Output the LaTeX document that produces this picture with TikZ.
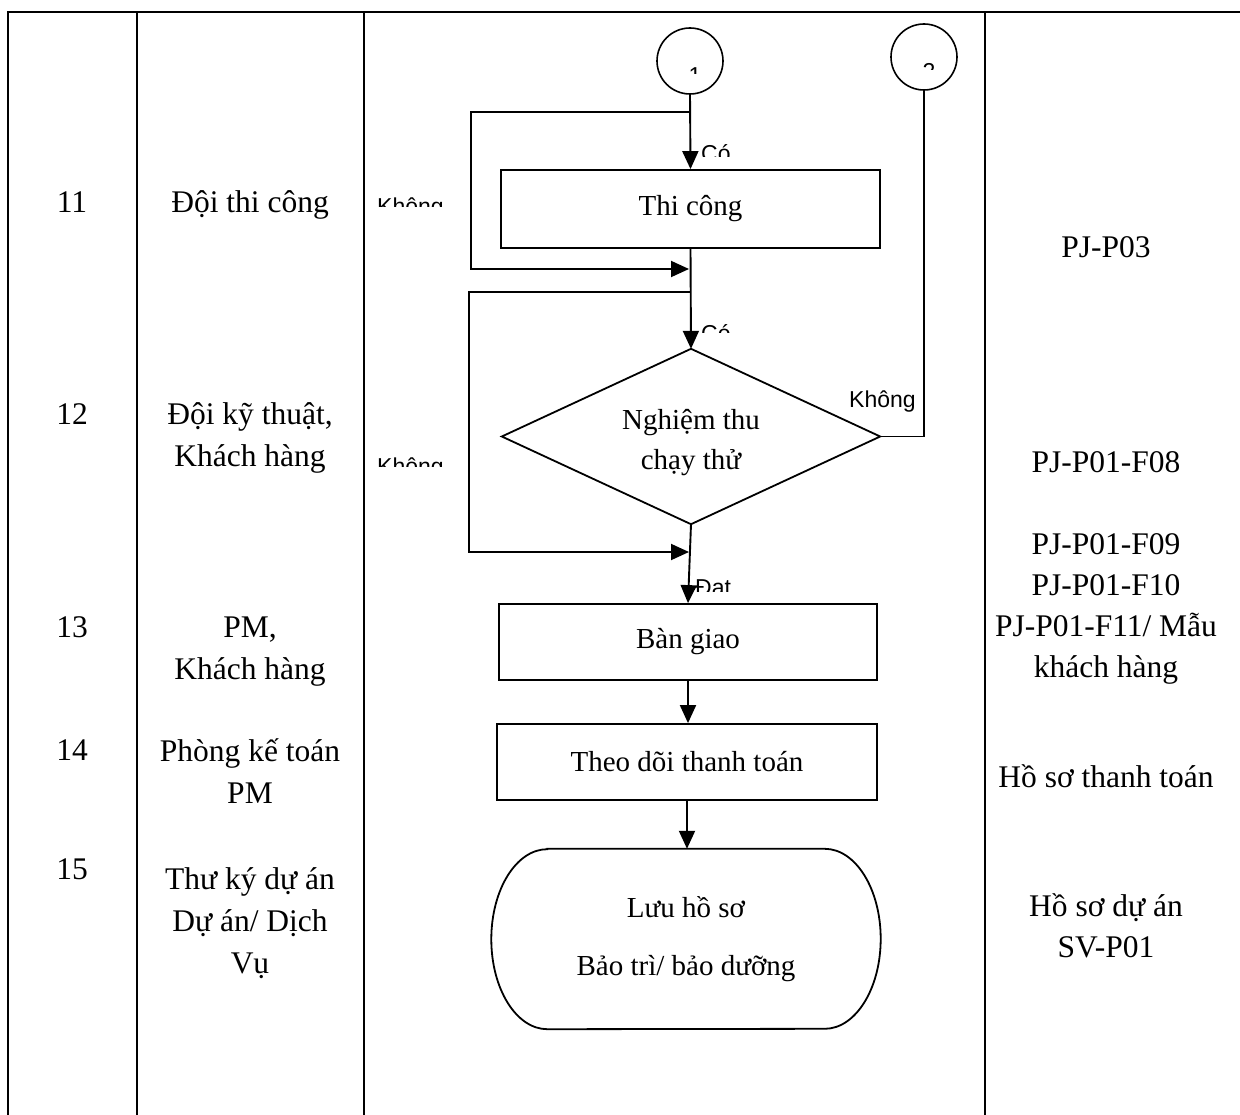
\documentclass[tikz,border=0pt]{standalone}
\usepackage{fontspec}
\setmainfont{Liberation Serif}
\newfontfamily\lsans{Liberation Sans}
\usetikzlibrary{arrows.meta}
\begin{document}
\begin{tikzpicture}[x=1pt,y=-1pt,
  grid/.style={line width=2.2pt},
  flow/.style={line width=1.9pt},
  arr/.style={flow,-{Triangle[length=18pt,width=16pt]}},
  cell/.style={font=\fontsize{31.5}{42}\selectfont, align=center, inner sep=0pt, anchor=base},
  procbox/.style={draw, line width=1.8pt, font=\fontsize{29}{40}\selectfont, inner sep=0pt, align=center},
  tag/.style={font=\lsans\fontsize{23}{26}\selectfont, inner sep=0pt, anchor=base west},
  conn/.style={draw, circle, line width=1.6pt, minimum size=66pt, inner sep=0pt},
]
\useasboundingbox (0,0) rectangle (1240,1115);

% table frame
\draw[grid] (8,1115) -- (8,12) -- (1240,12);
\draw[grid] (137,12) -- (137,1115);
\draw[grid] (364,12) -- (364,1115);
\draw[grid] (985,12) -- (985,1115);

% step numbers
\node[cell] (n11) at (72,213) {11};
\node[cell] (n12) at (72,424) {12};
\node[cell] (n13) at (72,637) {13};
\node[cell] (n14) at (72,760) {14};
\node[cell] (n15) at (72,879) {15};

% responsible parties (base = last line)
\node[cell] (p11) at (250,213) {Đội thi công};
\node[cell] (p12) at (250,466) {Đội kỹ thuật,\\Khách hàng};
\node[cell] (p13) at (250,679) {PM,\\Khách hàng};
\node[cell] (p14) at (250,803) {Phòng kế toán\\PM};
\node[cell] (p15) at (250,973) {Thư ký dự án\\Dự án/ Dịch\\Vụ};

% forms and records
\node[cell] (f11) at (1106,258) {PJ-P03};
\node[cell] (f12) at (1106,472) {PJ-P01-F08};
\node[cell, font=\fontsize{31.5}{41}\selectfont] (f13) at (1106,677) {PJ-P01-F09\\PJ-P01-F10\\PJ-P01-F11/ Mẫu\\khách hàng};
\node[cell] (f14) at (1106,787) {Hồ sơ thanh toán};
\node[cell, font=\fontsize{31.5}{41}\selectfont] (f15) at (1106,957) {Hồ sơ dự án\\SV-P01};

% connectors to other pages
\node[conn] (c1) at (690,61) {};
\node[conn] (c2) at (924,57) {};
\begin{scope}
  \clip (670,40) rectangle (720,74);
  \node[tag, anchor=base] (d1) at (695,83.5) {1};
\end{scope}
\begin{scope}
  \clip (905,40) rectangle (955,70);
  \node[tag, anchor=base] (d2) at (929,79.5) {2};
\end{scope}

% process steps
\node[procbox, minimum width=379pt, minimum height=78pt] (thi) at (690.5,209) {Thi công};
\node[minimum width=378pt, minimum height=175pt, inner sep=0pt] (dia) at (691,436.5) {};
\draw[line width=1.8pt] (dia.north) -- (dia.east) -- (dia.south) -- (dia.west) -- cycle;
\node[font=\fontsize{29}{40}\selectfont, align=center, inner sep=0pt] (diat) at (691,443) {Nghiệm thu\\chạy thử};
\node[procbox, minimum width=378pt, minimum height=76pt] (ban) at (688,642) {Bàn giao};
\node[procbox, minimum width=380pt, minimum height=76pt] (theo) at (687,762) {Theo dõi thanh toán};
\node[minimum width=389pt, minimum height=180pt, inner sep=0pt, align=center,
      font=\fontsize{29}{58}\selectfont] (luu) at (686,939) {Lưu hồ sơ\\Bảo trì/ bảo dưỡng};
\draw[line width=1.8pt] ([xshift=56pt]luu.north west) -- ([xshift=-56pt]luu.north east)
  arc[start angle=-90, end angle=90, x radius=56, y radius=90]
  -- ([xshift=56pt]luu.south west)
  arc[start angle=90, end angle=270, x radius=56, y radius=90] -- cycle;

% loop points
\coordinate (j1) at (690,112);
\coordinate (k1) at (471,112);
\coordinate (k2) at (471,269);
\coordinate (m1) at (689,269);
\coordinate (j2) at (690,292);
\coordinate (k3) at (469,292);
\coordinate (k4) at (469,552);
\coordinate (m2) at (689,552);

% main flow
\draw[arr] (c1.south) -- (thi.north);
\draw[arr] (thi.south) -- (dia.north);
\draw[arr] (dia.south) -- (ban.north);
\draw[arr] (ban.south) -- (ban.south |- theo.north);
\draw[arr] (theo.south) -- (theo.south |- luu.north);

% return loops
\draw[arr] (j1) -- (k1) -- (k2) -- (m1);
\draw[arr] (j2) -- (k3) -- (k4) -- (m2);
\draw[line width=1.4pt] (dia.east) -| (c2.south);

% branch labels
\begin{scope}
  \clip (698,130) rectangle (780,157);
  \node[tag] (co1) at (701,162) {Có};
\end{scope}
\begin{scope}
  \clip (698,310) rectangle (780,333);
  \node[tag] (co2) at (701,342) {Có};
\end{scope}
\begin{scope}
  \clip (690,560) rectangle (780,591);
  \node[tag] (dat) at (695,595) {Đạt};
\end{scope}
\begin{scope}
  \clip (370,180) rectangle (460,207);
  \node[tag] (kh1) at (377,215) {Không};
\end{scope}
\begin{scope}
  \clip (370,440) rectangle (460,466);
  \node[tag] (kh2) at (377,474) {Không};
\end{scope}
\node[tag] (kh3) at (849,407) {Không};
\end{tikzpicture}
\end{document}
